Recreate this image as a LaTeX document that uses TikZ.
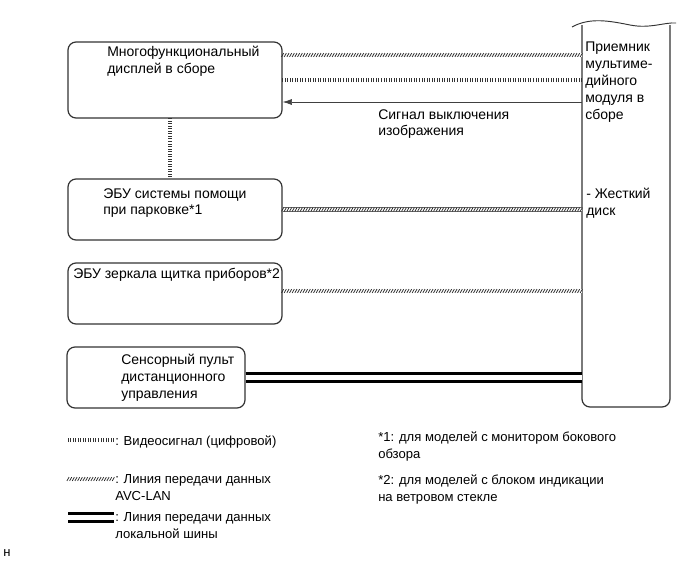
\documentclass[tikz,border=0pt]{standalone}
\usepackage{fontspec}
\setmainfont{Liberation Sans}
\usetikzlibrary{positioning,arrows.meta,calc,decorations.markings}
\tikzset{
  unit/.style={draw=black!80,line width=0.9pt,rounded corners=6pt,inner sep=0pt},
  lbl/.style={anchor=north west,inner sep=0pt,align=left},
  small/.style={font=\fontsize{9.8}{12.6}\selectfont},
  avc/.style={draw=black!60,double=white,double distance=2.8pt,line width=0.45pt,
    postaction={decorate,decoration={markings,
      mark=between positions 0 and 1 step 2pt with {\draw[black!85,line width=0.55pt] (-0.8pt,-1.4pt) -- (0.8pt,1.4pt);}}}},
  video/.style={draw=black!60,double=white,double distance=2.8pt,line width=0.45pt,
    postaction={decorate,decoration={markings,
      mark=between positions 0 and 1 step 1.9pt with {\draw[black!80,line width=0.6pt] (0,-1.5pt) -- (0,1.5pt);}}}},
  lbus/.style={draw=black,double=white,line width=1.7pt,double distance=4.2pt},
  sig/.style={draw=black!75,line width=0.5pt,-{Latex[length=7pt,width=4.5pt]}}
}
\begin{document}
\begin{tikzpicture}[x=0.75pt,y=-0.75pt,font=\fontsize{10.5}{12.6}\selectfont]
\useasboundingbox (0,0) rectangle (689,561);
% ---- units on the left ----
\node[unit,minimum width=160.5pt,minimum height=57pt] (disp) at (175,80) {};
\node[unit,minimum width=160.5pt,minimum height=45.75pt] (park) at (175,209.5) {};
\node[unit,minimum width=160.5pt,minimum height=45.75pt] (mirr) at (175,293.5) {};
\node[unit,minimum width=133.5pt,minimum height=45.75pt] (touch) at (156,377.5) {};
\node[lbl] (dispT) at (107,46) {Многофункциональный\\дисплей в сборе};
\node[lbl] (parkT) at (103,188) {ЭБУ системы помощи\\при парковке*1};
\node[lbl] (mirrT) at (73,268) {ЭБУ зеркала щитка приборов*2};
\node[lbl] (touchT) at (121,354) {Сенсорный пульт\\дистанционного\\управления};
% ---- receiver (cut at the top) ----
\coordinate (recvNW) at (582,25);
\coordinate (recvSE) at (670,407);
\draw[black!80,line width=0.9pt,rounded corners=6pt] (recvNW) -- (recvNW |- recvSE) -- (recvSE) -- (recvSE |- recvNW);
\draw[black!80,line width=0.7pt] (572,27) .. controls (590,17) and (610,21) .. (630,25) .. controls (650,29) and (665,22) .. (676,23);
\node[lbl] (recvT) at (585,42) {Приемник\\мультиме-\\дийного\\модуля в\\сборе};
\node[lbl] (hddT) at (586,188) {- Жесткий\\диск};
% ---- connections ----
\draw[avc] ([yshift=18.75pt]disp.east) -- ([yshift=18.75pt]disp.east -| recvNW);
\draw[video] (disp.east) -- (disp.east -| recvNW);
\draw[sig] ([yshift=-16.5pt]disp.east -| recvNW) -- ([yshift=-16.5pt]disp.east);
\node[lbl] (sigT) at (378,109) {Сигнал выключения\\изображения};
\draw[video] ([xshift=-3.75pt]disp.south) -- ([xshift=-3.75pt]disp.south |- park.north);
\draw[avc] (park.east) -- (park.east -| recvNW);
\draw[avc] ([yshift=1.9pt]mirr.east) -- ([yshift=1.9pt]mirr.east -| recvNW);
\draw[lbus] (touch.east) -- (touch.east -| recvNW);
% ---- legend ----
\coordinate (lgV1) at (68,440); \coordinate (lgV2) at (114,440);
\coordinate (lgA1) at (68,479); \coordinate (lgA2) at (114,479);
\coordinate (lgB1) at (68,517.5); \coordinate (lgB2) at (114,517.5);
\draw[video] (lgV1) -- (lgV2);
\draw[avc] (lgA1) -- (lgA2);
\draw[lbus] (lgB1) -- (lgB2);
\node[lbl,small] (lgVT) at (115,436) {: Видеосигнал (цифровой)};
\node[lbl,small] (lgAT) at (115,474) {: Линия передачи данных\\AVC-LAN};
\node[lbl,small] (lgBT) at (115,512) {: Линия передачи данных\\локальной шины};
% ---- notes ----
\node[lbl,small] (note1) at (378,432) {*1: для моделей с монитором бокового\\обзора};
\node[lbl,small] (note2) at (378,475) {*2: для моделей с блоком индикации\\на ветровом стекле};
\node[lbl,small] (mark) at (3,549) {н};
\end{tikzpicture}
\end{document}
